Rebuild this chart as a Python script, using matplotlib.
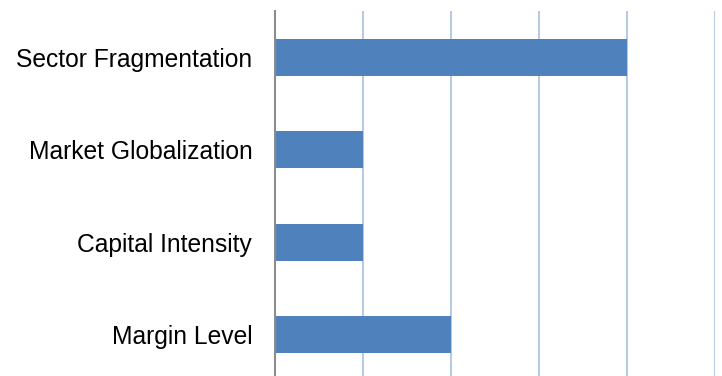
import numpy as np
import matplotlib.pyplot as plt

plt.rcParams['font.family'] = ['Liberation Sans', 'DejaVu Sans']

# Chart data (top to bottom)
categories = ['Sector Fragmentation', 'Market Globalization', 'Capital Intensity', 'Margin Level']
values = [4, 1, 1, 2]

fig = plt.figure(figsize=(7.22, 3.76), dpi=100)
ax = fig.add_axes([274.5 / 722, -4.5 / 376, (715 - 274.5) / 722, (376 + 4.5 - 11.3) / 376])

y = np.arange(len(categories))
ax.barh(y, values, height=0.4, color='#4F81BD', zorder=3)

ax.set_xlim(0, 5)
ax.set_ylim(len(categories) - 0.5, -0.5)
ax.set_xticks(np.arange(0, 6))
ax.set_xticklabels([])
ax.set_yticks(y)
ax.set_yticklabels(categories, fontsize=17.7)
ax.tick_params(axis='y', length=0, pad=16)
ax.tick_params(axis='x', length=0)

ax.grid(axis='x', color='#A9C0DE', linewidth=1.2, zorder=0)
for side in ['top', 'right', 'bottom']:
    ax.spines[side].set_visible(False)
ax.spines['left'].set_color('#8C8C8C')
ax.spines['left'].set_linewidth(1.5)
ax.spines['left'].set_zorder(4)

fig.savefig('out.png', dpi=100)
